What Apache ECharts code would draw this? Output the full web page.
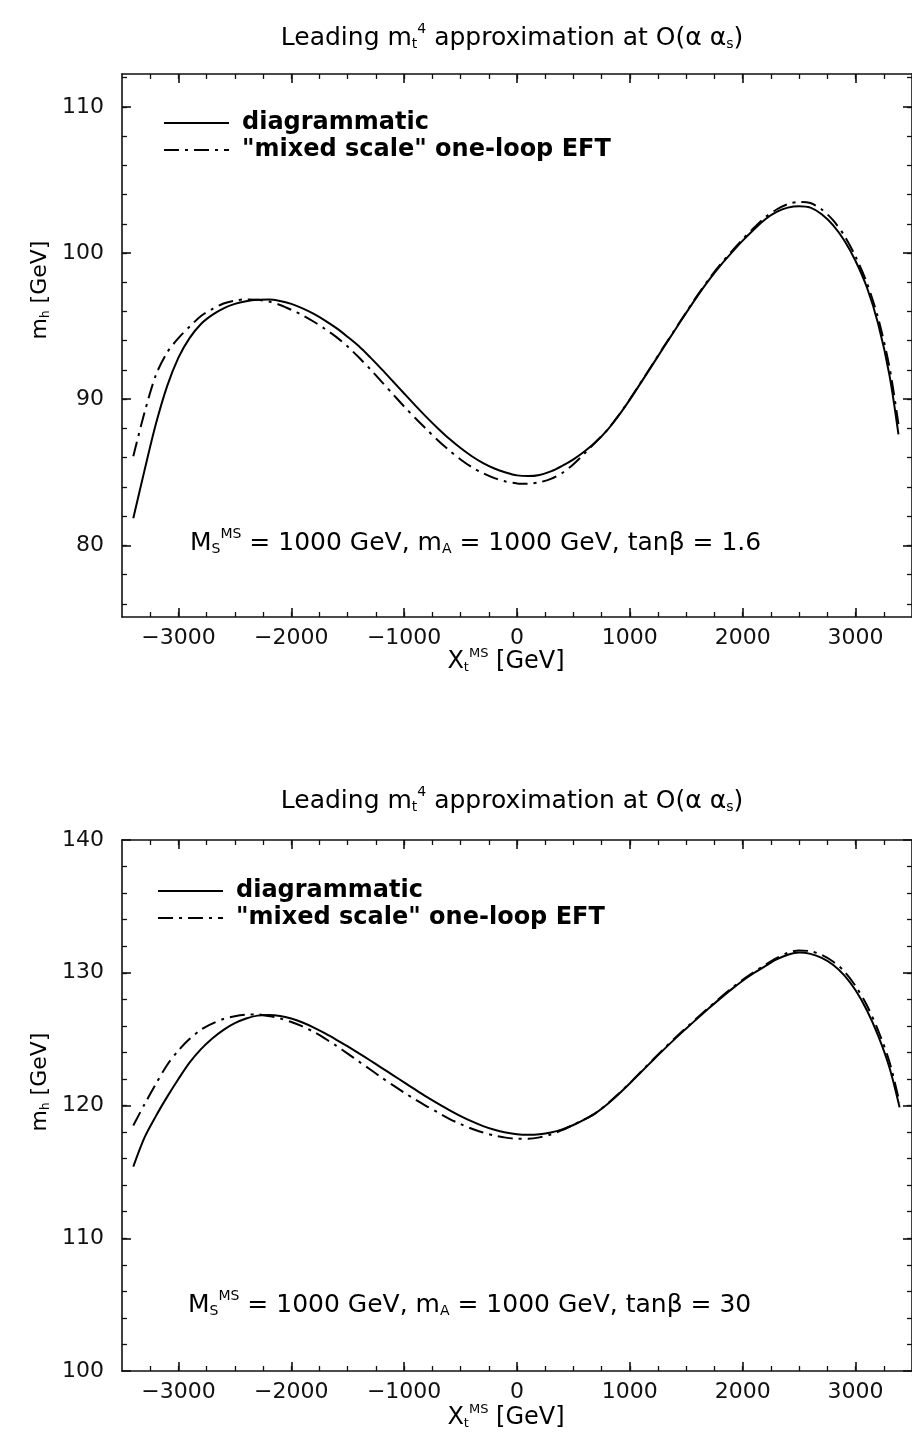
<!DOCTYPE html>
<html><head><meta charset="utf-8">
<script src="https://cdn.jsdelivr.net/npm/echarts@6/dist/echarts.min.js"></script>
<style>html,body{margin:0;padding:0;background:#fff}#c{width:912px;height:1436px}</style>
</head><body><div id="c"></div>
<script>
// ---------- data ----------
const topX = [-3400,-3300,-3200,-3100,-3000,-2900,-2800,-2700,-2600,-2500,-2400,-2300,-2200,-2100,-2000,-1900,-1800,-1700,-1600,-1500,-1400,-1300,-1200,-1100,-1000,-900,-800,-700,-600,-500,-400,-300,-200,-100,0,100,200,300,400,500,600,700,800,900,1000,1100,1200,1300,1400,1500,1600,1700,1800,1900,2000,2100,2200,2300,2400,2500,2600,2700,2800,2900,3000,3100,3200,3300,3380];
const topDiagrammatic = [81.85,85.15,88.3,90.9,92.85,94.2,95.15,95.77,96.22,96.52,96.7,96.8,96.82,96.72,96.52,96.22,95.84,95.38,94.86,94.26,93.62,92.86,92.06,91.23,90.39,89.56,88.76,88.0,87.29,86.66,86.1,85.63,85.26,84.99,84.79,84.74,84.82,85.06,85.44,85.89,86.44,87.09,87.89,88.87,89.97,91.15,92.35,93.55,94.74,95.92,97.07,98.15,99.13,100.01,100.85,101.61,102.31,102.81,103.11,103.21,103.11,102.66,101.91,100.86,99.46,97.66,95.16,91.66,87.6];
const topEFT = [86.1,89.1,91.65,93.2,94.18,94.97,95.69,96.17,96.55,96.75,96.83,96.81,96.68,96.45,96.12,95.74,95.3,94.8,94.25,93.6,92.85,92.05,91.2,90.35,89.5,88.7,87.93,87.18,86.5,85.88,85.35,84.93,84.6,84.37,84.24,84.22,84.32,84.55,84.95,85.55,86.3,87.09,87.9,88.89,90.0,91.18,92.38,93.58,94.78,95.96,97.12,98.21,99.2,100.1,100.95,101.73,102.45,102.98,103.35,103.5,103.42,102.98,102.25,101.2,99.76,97.96,95.55,92.2,88.3];
const botX = [-3400,-3300,-3200,-3100,-3000,-2900,-2800,-2700,-2600,-2500,-2400,-2300,-2200,-2100,-2000,-1900,-1800,-1700,-1600,-1500,-1400,-1300,-1200,-1100,-1000,-900,-800,-700,-600,-500,-400,-300,-200,-100,0,100,200,300,400,500,600,700,800,900,1000,1100,1200,1300,1400,1500,1600,1700,1800,1900,2000,2100,2200,2300,2400,2500,2600,2700,2800,2900,3000,3100,3200,3300,3390];
const botDiagrammatic = [115.4,117.6,119.2,120.65,122.0,123.25,124.25,125.05,125.7,126.2,126.55,126.77,126.82,126.75,126.55,126.25,125.87,125.43,124.95,124.45,123.93,123.39,122.84,122.29,121.74,121.19,120.65,120.14,119.65,119.2,118.8,118.45,118.17,117.97,117.84,117.8,117.84,117.97,118.2,118.53,118.95,119.45,120.1,120.85,121.67,122.52,123.37,124.21,125.02,125.8,126.57,127.32,128.05,128.75,129.4,129.98,130.5,131.0,131.35,131.52,131.42,131.12,130.6,129.8,128.68,127.18,125.26,122.86,119.86];
const botEFT = [118.5,120.1,121.62,123.05,124.15,125.02,125.72,126.17,126.52,126.72,126.84,126.86,126.74,126.56,126.29,125.96,125.54,125.04,124.49,123.91,123.31,122.71,122.11,121.53,120.97,120.44,119.94,119.47,119.0,118.6,118.25,117.96,117.74,117.58,117.5,117.5,117.6,117.82,118.14,118.55,118.97,119.45,120.12,120.88,121.7,122.56,123.42,124.27,125.08,125.86,126.63,127.38,128.12,128.82,129.47,130.05,130.6,131.1,131.5,131.68,131.62,131.35,130.85,130.1,129.0,127.55,125.65,123.3,120.2];

const xMajorTicks = [-3000,-2000,-1000,0,1000,2000,3000];
const xMinorTicks = [-3250,-3000,-2750,-2500,-2250,-2000,-1750,-1500,-1250,-1000,-750,-500,-250,0,250,500,750,1000,1250,1500,1750,2000,2250,2500,2750,3000,3250];
const topYMajor = [80,90,100,110];
const topYMinor = [76,78,80,82,84,86,88,90,92,94,96,98,100,102,104,106,108,110,112];
const botYMajor = [100,110,120,130,140];
const botYMinor = [102,104,106,108,110,112,114,116,118,120,122,124,126,128,130,132,134,136,138];

const seriesNames = ['diagrammatic', '"mixed scale" one-loop EFT'];
// ----------------------------------------------------

const FONT = 'DejaVu Sans';
const INK = '#111';
const chart = echarts.init(document.getElementById('c'), null, {renderer: 'canvas'});

const grids = [
  {left: 122, top: 74, width: 791, height: 543},
  {left: 122, top: 840, width: 791, height: 531}
];

function minusFmt(v) { return v < 0 ? '\u2212' + Math.abs(v) : String(v); }

const xAxes = [], yAxes = [];
function addX(gi, pos, major, withLabels) {
  xAxes.push({
    type: 'value', gridIndex: gi, position: pos, min: -3500, max: 3500,
    axisLine: {show: major, onZero: false, lineStyle: {color: INK, width: 1.6}},
    axisTick: {show: true, inside: true, length: major ? 9 : 5, customValues: major ? xMajorTicks : xMinorTicks,
               lineStyle: {color: INK, width: major ? 1.6 : 1.3}},
    axisLabel: {show: withLabels, customValues: xMajorTicks, formatter: minusFmt, margin: 10,
                fontFamily: FONT, fontSize: 22, color: INK},
    splitLine: {show: false}
  });
}
function addY(gi, pos, min, max, majors, minors, major, withLabels) {
  yAxes.push({
    type: 'value', gridIndex: gi, position: pos, min: min, max: max,
    axisLine: {show: major, onZero: false, lineStyle: {color: INK, width: 1.6}},
    axisTick: {show: true, inside: true, length: major ? 9 : 5, customValues: major ? majors : minors,
               lineStyle: {color: INK, width: major ? 1.6 : 1.3}},
    axisLabel: {show: withLabels, customValues: majors, margin: 18, showMinLabel: true, showMaxLabel: true,
                fontFamily: FONT, fontSize: 22, color: INK},
    splitLine: {show: false}
  });
}
// panel 0
addX(0, 'bottom', true, true);
addX(0, 'bottom', false, false);
addX(0, 'top', true, false);
addX(0, 'top', false, false);
addY(0, 'left', 75.1, 112.25, topYMajor, topYMinor, true, true);
addY(0, 'left', 75.1, 112.25, topYMajor, topYMinor, false, false);
addY(0, 'right', 75.1, 112.25, topYMajor, topYMinor, true, false);
addY(0, 'right', 75.1, 112.25, topYMajor, topYMinor, false, false);
// panel 1
addX(1, 'bottom', true, true);
addX(1, 'bottom', false, false);
addX(1, 'top', true, false);
addX(1, 'top', false, false);
addY(1, 'left', 100, 140, botYMajor, botYMinor, true, true);
addY(1, 'left', 100, 140, botYMajor, botYMinor, false, false);
addY(1, 'right', 100, 140, botYMajor, botYMinor, true, false);
addY(1, 'right', 100, 140, botYMajor, botYMinor, false, false);

const DASH = [15, 6, 3, 6];
function mkSeries(name, xs, ys, xi, yi, dashed) {
  return {
    type: 'line', name: name, xAxisIndex: xi, yAxisIndex: yi,
    data: xs.map((x, i) => [x, ys[i]]),
    symbol: 'none', showSymbol: false, smooth: 0.3, silent: true,
    itemStyle: {color: '#000'},
    lineStyle: {color: '#000', width: 2, type: dashed ? DASH : 'solid'},
    animation: false
  };
}
const series = [
  mkSeries(seriesNames[0], topX, topDiagrammatic, 0, 0, false),
  mkSeries(seriesNames[1], topX, topEFT, 0, 0, true),
  mkSeries(seriesNames[0], botX, botDiagrammatic, 4, 4, false),
  mkSeries(seriesNames[1], botX, botEFT, 4, 4, true)
];

function legendAt(left, top) {
  return {
    orient: 'vertical', left: left, top: top, itemWidth: 65, itemHeight: 14, itemGap: 3,
    selectedMode: false, data: seriesNames,
    itemStyle: {opacity: 0, color: 'rgba(0,0,0,0)', borderWidth: 0},
    lineStyle: {width: 2},
    textStyle: {fontFamily: FONT, fontWeight: 'bold', fontSize: 24, color: '#000', padding: [0, 0, 0, 8]}
  };
}

function richSet(base) {
  const s = Math.round(base * 0.55);
  return {
    n: {fontFamily: FONT, fontSize: base, fill: '#000'},
    sup: {fontFamily: FONT, fontSize: s, fill: '#000', padding: [0, 0, Math.round(base * 0.66), 0]},
    sub: {fontFamily: FONT, fontSize: s, fill: '#000', padding: [Math.round(base * 0.5), 0, 0, 0]}
  };
}
function txt(text, x, y, align, size, rot) {
  return {
    type: 'text', x: x, y: y, rotation: rot || 0, silent: true,
    style: {text: text, rich: richSet(size), fontFamily: FONT, fontSize: size, fill: '#000',
            align: align, textAlign: align, verticalAlign: 'middle', textVerticalAlign: 'middle'}
  };
}
const titleTxt = '{n|Leading m}{sub|t}{sup|4}{n| approximation at O(\u03b1 \u03b1}{sub|s}{n|)}';
const xNameTxt = '{n|X}{sub|t}{sup|MS}{n| [GeV]}';
const yNameTxt = '{n|m}{sub|h}{n| [GeV]}';
const noteTop = '{n|M}{sub|S}{sup|MS}{n| = 1000 GeV, m}{sub|A}{n| = 1000 GeV, tan\u03b2 = 1.6}';
const noteBot = '{n|M}{sub|S}{sup|MS}{n| = 1000 GeV, m}{sub|A}{n| = 1000 GeV, tan\u03b2 = 30}';

chart.setOption({
  animation: false,
  backgroundColor: '#fff',
  grid: grids,
  xAxis: xAxes,
  yAxis: yAxes,
  legend: [legendAt(158, 106), legendAt(152, 874)],
  series: series,
  graphic: [
    txt(titleTxt, 512, 38, 'center', 25),
    txt(titleTxt, 512, 801, 'center', 25),
    txt(xNameTxt, 506, 662, 'center', 24),
    txt(xNameTxt, 506, 1418, 'center', 24),
    txt(noteTop, 190, 543, 'left', 25),
    txt(noteBot, 188, 1305, 'left', 25),
    txt(yNameTxt, 40, 290, 'center', 22, Math.PI / 2),
    txt(yNameTxt, 40, 1082, 'center', 22, Math.PI / 2)
  ]
});
</script></body></html>
